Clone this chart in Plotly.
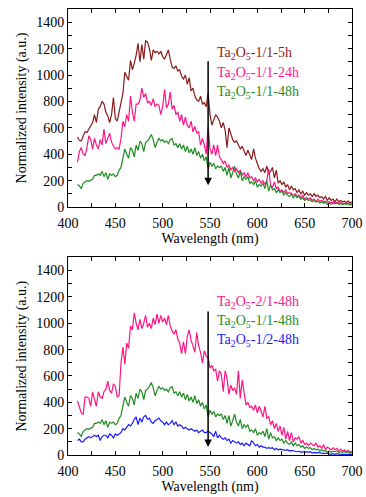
import plotly.graph_objects as go
from plotly.subplots import make_subplots

wavelength = list(range(410, 701, 2))

s_11_5h = [530,505,500,540,570,565,590,610,640,700,640,740,760,800,780,720,690,640,700,830,
           670,650,720,800,860,1020,990,960,1110,1040,1090,1150,1240,1100,1230,1120,1260,1250,1200,1110,
           1190,1170,1180,1160,1180,1140,1120,1150,1190,1120,1060,1050,1070,1030,1040,990,970,1000,930,980,
           880,900,840,810,800,840,780,790,760,860,700,620,670,700,680,650,600,640,580,450,
           600,560,510,490,500,470,440,460,420,390,430,400,360,440,370,330,290,270,290,260,
           310,250,270,300,220,280,180,200,170,190,150,170,130,160,130,140,110,130,100,120,
           90,110,90,100,80,100,80,90,70,80,60,80,50,70,50,60,40,60,40,50,
           40,45,35,45,30,40]

s_11_24h = [340,420,450,400,390,450,540,510,440,520,470,440,510,470,590,480,520,560,490,460,
            440,450,440,520,650,610,700,650,840,720,650,780,780,810,900,830,860,790,800,770,
            820,760,780,770,700,760,890,750,780,870,740,770,700,720,650,700,620,680,620,600,
            650,570,610,560,570,470,520,470,400,610,440,400,470,390,470,380,360,330,350,300,
            320,280,300,270,290,260,280,240,260,230,260,220,230,200,220,190,210,180,200,170,
            200,290,160,150,190,140,150,120,130,110,130,100,110,100,90,100,80,90,70,90,
            60,70,60,70,50,60,40,60,45,50,40,45,35,40,30,40,30,35,30,35,
            25,30,25,30,20,25]

s_11_48h = [170,160,140,180,190,200,195,200,210,240,240,250,240,270,230,260,210,250,240,250,
            230,240,280,300,380,440,400,370,450,430,380,470,430,500,480,420,490,500,520,550,
            510,450,490,520,500,510,490,500,480,510,520,470,480,450,480,440,470,420,460,410,
            440,400,450,390,420,370,400,350,380,290,340,310,330,290,310,300,310,270,300,240,
            300,220,260,310,250,220,270,200,230,210,230,180,190,170,200,150,170,160,180,140,
            200,120,170,130,140,110,130,110,120,90,110,90,80,100,70,90,70,80,60,70,
            50,60,50,55,40,50,40,45,30,40,30,35,20,30,20,30,25,30,20,25,
            20,25,20,25,15,20]

s_21_48h = [410,370,320,310,440,440,430,370,480,420,370,480,440,430,480,500,560,490,470,540,
            520,440,450,700,820,690,850,810,980,950,1080,1000,950,1030,960,1000,1060,970,1000,960,
            1040,990,1070,1000,1060,1010,1040,990,1060,980,940,920,950,880,850,770,860,770,900,950,
            870,830,780,930,830,780,700,790,750,740,660,680,640,650,560,640,610,480,640,580,
            460,530,490,510,460,640,430,570,470,380,400,360,370,340,380,320,370,330,290,370,
            280,290,230,260,200,240,180,220,150,210,120,180,110,170,100,130,120,140,90,110,
            80,90,70,90,80,70,90,60,70,50,80,40,60,50,40,55,40,50,30,45,
            30,40,25,35,20,30]

s_12_48h = [110,120,100,100,120,130,140,130,140,150,140,150,110,140,150,150,130,160,150,130,
            160,150,160,170,200,190,210,230,220,240,270,290,230,280,250,290,300,270,280,250,
            240,260,270,280,260,250,230,250,230,240,260,230,250,220,230,220,200,210,200,190,
            200,190,180,190,170,180,190,170,170,180,170,160,140,180,130,150,130,120,130,110,
            120,90,110,100,90,100,80,90,70,90,80,70,110,90,70,80,60,70,60,60,
            50,55,50,55,40,50,40,45,40,40,35,40,30,35,30,30,25,30,20,25,
            20,25,20,25,15,20,15,20,15,15,10,15,10,10,5,10,5,10,5,5,
            5,5,5,5,5,5]

top_labels = ["Ta<sub>2</sub>O<sub>5</sub>-1/1-5h", "Ta<sub>2</sub>O<sub>5</sub>-1/1-24h", "Ta<sub>2</sub>O<sub>5</sub>-1/1-48h"]
bot_labels = ["Ta<sub>2</sub>O<sub>5</sub>-2/1-48h", "Ta<sub>2</sub>O<sub>5</sub>-1/1-48h", "Ta<sub>2</sub>O<sub>5</sub>-1/2-48h"]
label_y = [1160, 1015, 870]

c_dark = "#8b1a1a"
c_pink = "#ff1487"
c_green = "#1f8c1f"
c_blue = "#1a1aff"

FONT = "Liberation Serif, Times New Roman, serif"

fig = make_subplots(rows=2, cols=1, vertical_spacing=0.113)

top_series = [(s_11_5h, c_dark), (s_11_24h, c_pink), (s_11_48h, c_green)]
bot_series = [(s_21_48h, c_pink), (s_11_48h, c_green), (s_12_48h, c_blue)]

for ys, c in top_series:
    fig.add_trace(go.Scatter(x=wavelength, y=ys, mode="lines", line=dict(color=c, width=1.2),
                             showlegend=False), row=1, col=1)
for ys, c in bot_series:
    fig.add_trace(go.Scatter(x=wavelength, y=ys, mode="lines", line=dict(color=c, width=1.2),
                             showlegend=False), row=2, col=1)

for i, (lab, (ys, c)) in enumerate(zip(top_labels, top_series)):
    fig.add_annotation(x=555, y=label_y[i], xref="x", yref="y", text=lab, showarrow=False,
                       xanchor="left", yanchor="middle", font=dict(family=FONT, size=14, color=c))
for i, (lab, (ys, c)) in enumerate(zip(bot_labels, bot_series)):
    fig.add_annotation(x=555, y=label_y[i], xref="x2", yref="y2", text=lab, showarrow=False,
                       xanchor="left", yanchor="middle", font=dict(family=FONT, size=14, color=c))

# arrows
fig.add_annotation(x=548, y=165, ax=548, ay=1115, xref="x", yref="y", axref="x", ayref="y",
                   showarrow=True, arrowhead=2, arrowsize=1, arrowwidth=1.5, arrowcolor="black", text="")
fig.add_annotation(x=548, y=60, ax=548, ay=1100, xref="x2", yref="y2", axref="x2", ayref="y2",
                   showarrow=True, arrowhead=2, arrowsize=1, arrowwidth=1.5, arrowcolor="black", text="")

axis_common = dict(showline=True, linecolor="black", linewidth=1, mirror="ticks",
                   ticks="inside", ticklen=4, tickcolor="black", showgrid=False, zeroline=False,
                   automargin=False,
                   tickfont=dict(family=FONT, size=14, color="black"))

for r in (1, 2):
    fig.update_xaxes(range=[400, 700], dtick=50, tick0=400, ticklabelstandoff=3,
                     minor=dict(dtick=25, ticks="inside", ticklen=4, tickcolor="black", showgrid=False),
                     title=dict(text="Wavelength (nm)", font=dict(family=FONT, size=14, color="black"), standoff=2),
                     row=r, col=1, **axis_common)
    fig.update_yaxes(range=[0, 1500], tickvals=[0, 200, 400, 600, 800, 1000, 1200, 1400],
                     minor=dict(dtick=100, ticks="inside", ticklen=4, tickcolor="black", showgrid=False),
                     title=dict(text="Normalized intensity (a.u.)", font=dict(family=FONT, size=14, color="black"), standoff=6),
                     row=r, col=1, **axis_common)

fig.update_layout(width=366, height=497, margin=dict(l=68, r=14, t=9, b=42),
                  plot_bgcolor="white", paper_bgcolor="white",
                  font=dict(family=FONT, size=14, color="black"))
fig.update_layout(yaxis=dict(domain=[0.556, 1.0]), yaxis2=dict(domain=[0.0, 0.443]))

fig.write_html("out.html", config={"displayModeBar": False},
               post_script="document.body.style.margin='0';document.body.style.overflow='hidden';")
